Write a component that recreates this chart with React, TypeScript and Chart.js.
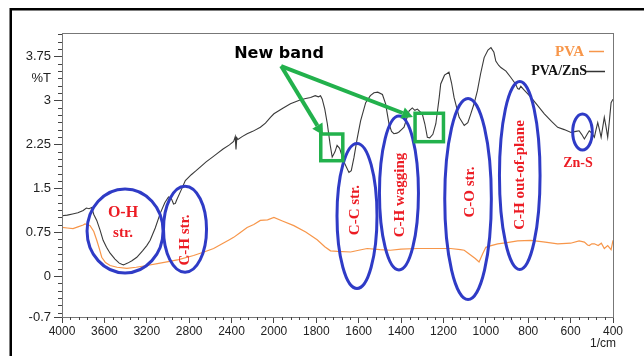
import React, { useEffect, useRef } from "react";
import { Chart, registerables } from "chart.js";

Chart.register(...registerables);

// ---------- DATA ----------
const xTickLabels = ["4000", "3600", "3200", "2800", "2400", "2000", "1800", "1600", "1400", "1200", "1000", "800", "600", "400"];
const yTickValues = [-0.7, 0, 0.75, 1.5, 2.25, 3, 3.75];
const yUnitTick = 3.375; // position of the "%T" label

// PVA/ZnS spectrum: [wavenumber (1/cm), %T]
const pvaZnsSpectrum: [number, number][] = [
  [4000, 1.03], [3950, 1.04], [3900, 1.06], [3850, 1.08], [3800, 1.12], [3770, 1.16], [3745, 1.15], [3720, 1.17],
  [3700, 1.05], [3672, 0.95], [3640, 0.78], [3612, 0.61], [3580, 0.49], [3546, 0.39], [3500, 0.29], [3460, 0.22],
  [3436, 0.2], [3420, 0.19], [3380, 0.22], [3340, 0.26], [3294, 0.32], [3240, 0.43], [3200, 0.52], [3168, 0.61],
  [3120, 0.82], [3073, 1.07], [3030, 1.25], [2995, 1.35], [2970, 1.33], [2947, 1.23], [2930, 1.24], [2920, 1.29],
  [2880, 1.45], [2836, 1.63], [2780, 1.73], [2740, 1.79], [2696, 1.86], [2640, 1.95], [2580, 2.03], [2537, 2.09],
  [2480, 2.17], [2420, 2.24], [2380, 2.3], [2365, 2.38], [2358, 2.16], [2350, 2.36], [2340, 2.33], [2300, 2.38],
  [2253, 2.43], [2200, 2.47], [2128, 2.54], [2080, 2.61], [2033, 2.71], [2000, 2.77], [1960, 2.86], [1922, 2.94],
  [1880, 3.0], [1850, 3.03], [1827, 3.05], [1805, 3.08], [1790, 3.06], [1780, 3.08], [1772, 3.02], [1760, 2.85],
  [1748, 2.6], [1735, 2.25], [1725, 2.03], [1712, 2.12], [1702, 2.23], [1690, 2.18], [1670, 1.95], [1646, 1.77],
  [1635, 1.8], [1622, 2.03], [1607, 2.35], [1591, 2.65], [1567, 2.96], [1545, 3.08], [1528, 3.13], [1510, 3.14],
  [1488, 3.1], [1473, 2.94], [1457, 2.6], [1445, 2.47], [1434, 2.43], [1420, 2.44], [1410, 2.46], [1398, 2.5],
  [1386, 2.54], [1362, 2.82], [1347, 2.87], [1335, 2.83], [1323, 2.85], [1300, 2.77], [1288, 2.6], [1276, 2.37],
  [1265, 2.36], [1250, 2.42], [1236, 2.6], [1220, 3.05], [1213, 3.28], [1195, 3.43], [1174, 3.48], [1162, 3.3],
  [1150, 3.05], [1126, 2.71], [1102, 2.57], [1085, 2.62], [1071, 2.77], [1055, 2.95], [1040, 3.16], [1025, 3.45],
  [1008, 3.73], [990, 3.86], [976, 3.9], [962, 3.82], [953, 3.67], [940, 3.6], [929, 3.56], [905, 3.5],
  [882, 3.39], [860, 3.28], [850, 3.2], [843, 3.19], [835, 3.24], [820, 3.18], [800, 3.1], [787, 3.05],
  [760, 2.93], [724, 2.77], [690, 2.64], [661, 2.54], [630, 2.5], [598, 2.45], [575, 2.47], [560, 2.48],
  [548, 2.42], [535, 2.34], [522, 2.42], [512, 2.48], [500, 2.44], [488, 2.37], [480, 2.5], [472, 2.62],
  [464, 2.5], [456, 2.37], [448, 2.55], [441, 2.71], [433, 2.55], [425, 2.37], [417, 2.65], [409, 2.96], [400, 3.02],
];

// PVA spectrum: [wavenumber (1/cm), %T]
const pvaSpectrum: [number, number][] = [
  [4000, 0.83], [3950, 0.82], [3896, 0.81], [3850, 0.84], [3800, 0.87], [3783, 0.89], [3760, 0.88], [3735, 0.86],
  [3700, 0.76], [3672, 0.61], [3645, 0.45], [3625, 0.32], [3590, 0.23], [3546, 0.18], [3480, 0.15], [3388, 0.13],
  [3300, 0.15], [3199, 0.18], [3100, 0.21], [3010, 0.24], [2900, 0.28], [2758, 0.35], [2660, 0.41], [2569, 0.47],
  [2480, 0.56], [2420, 0.62], [2380, 0.66], [2320, 0.74], [2253, 0.83], [2190, 0.88], [2128, 0.95], [2060, 0.96],
  [2000, 1.0], [1960, 0.94], [1906, 0.86], [1850, 0.75], [1796, 0.62], [1760, 0.5], [1733, 0.43], [1700, 0.42],
  [1638, 0.41], [1600, 0.44], [1560, 0.47], [1500, 0.45], [1450, 0.44], [1400, 0.46], [1323, 0.47], [1260, 0.47],
  [1210, 0.47], [1166, 0.47], [1120, 0.45], [1102, 0.44], [1080, 0.38], [1050, 0.3], [1032, 0.24], [1015, 0.38],
  [1000, 0.49], [975, 0.52], [944, 0.55], [900, 0.57], [850, 0.6], [787, 0.61], [720, 0.58], [661, 0.55],
  [600, 0.56], [560, 0.6], [535, 0.58], [520, 0.53], [512, 0.52], [500, 0.55], [488, 0.55], [470, 0.52],
  [455, 0.56], [441, 0.47], [425, 0.52], [409, 0.45], [400, 0.61],
];

// ---------- ANNOTATIONS (data-space anchors) ----------
const bandEllipses = [
  { wn: 3405, t: 0.77, rx: 38, ry: 42 },
  { wn: 2839, t: 0.8, rx: 21.5, ry: 43 },
  { wn: 1608, t: 1.025, rx: 20, ry: 72.5 },
  { wn: 1410, t: 1.418, rx: 19.5, ry: 77 },
  { wn: 1084, t: 1.315, rx: 23.3, ry: 100.5 },
  { wn: 840, t: 1.717, rx: 20.3, ry: 94 },
  { wn: 544, t: 2.46, rx: 9.8, ry: 18 },
];
const bandLabels = [
  { text: "O-H", wn: 3424, t: 1.076, rot: false, size: 16 },
  { text: "str.", wn: 3424, t: 0.735, rot: false, size: 15 },
  { text: "C-H str.", wn: 2839, t: 0.615, rot: true, size: 15 },
  { text: "C-C str.", wn: 1618, t: 1.127, rot: true, size: 15 },
  { text: "C-H wagging", wn: 1405, t: 1.384, rot: true, size: 15 },
  { text: "C-O str.", wn: 1075, t: 1.435, rot: true, size: 15 },
  { text: "C-H out-of-plane", wn: 838, t: 1.725, rot: true, size: 15 },
  { text: "Zn-S", wn: 565, t: 1.93, rot: false, size: 14 },
];
const newBand = {
  text: "New band", wn: 1976, t: 3.79,
  apex: { wn: 1966, t: 3.586 },
  tips: [{ wn: 1768, t: 2.408 }, { wn: 1344, t: 2.716 }],
  boxes: [
    { wn1: 1779, wn2: 1675, t1: 2.425, t2: 1.969 },
    { wn1: 1334, wn2: 1200, t1: 2.779, t2: 2.294 },
  ],
};

// piecewise wavenumber axis (400/div above 2000, 200/div below)
function toAxis(w: number): number {
  return w >= 2000 ? (4000 - w) / 400 : 5 + (2000 - w) / 200;
}

const BLUE = "#2f3bc6";
const RED = "#ec1c24";
const GREEN = "#22b14c";
const ORANGE = "#f7964a";
const DARK = "#3a3a3a";

const decorPlugin = {
  id: "decor",
  beforeDraw(chart: any) {
    const { ctx } = chart;
    ctx.save();
    ctx.fillStyle = "#fff";
    ctx.fillRect(0, 0, chart.width, chart.height);
    ctx.strokeStyle = "#000";
    ctx.lineWidth = 2.5;
    ctx.beginPath();
    ctx.moveTo(10.75, chart.height);
    ctx.lineTo(10.75, 9.25);
    ctx.lineTo(chart.width, 9.25);
    ctx.stroke();
    ctx.restore();
  },
  afterDraw(chart: any) {
    const { ctx, chartArea: ca } = chart;
    const x = chart.scales.x;
    const y = chart.scales.y;
    const px = (w: number) => x.getPixelForValue(toAxis(w));
    const py = (t: number) => y.getPixelForValue(t);
    ctx.save();

    // plot frame
    ctx.strokeStyle = "#777";
    ctx.lineWidth = 1;
    ctx.strokeRect(ca.left + 0.5, ca.top + 0.5, ca.right - ca.left, ca.bottom - ca.top);

    // minor ticks
    ctx.strokeStyle = "#444";
    ctx.beginPath();
    for (let i = 0; i < xTickLabels.length - 1; i++) {
      for (let k = 1; k < 5; k++) {
        const xx = Math.round(x.getPixelForValue(i + k / 5)) + 0.5;
        ctx.moveTo(xx, ca.bottom);
        ctx.lineTo(xx, ca.bottom + 3);
      }
    }
    for (let v = -0.625; v < 4.15; v += 0.125) {
      if (yTickValues.some((m) => Math.abs(m - v) < 0.01)) continue;
      const yy = Math.round(y.getPixelForValue(v)) + 0.5;
      ctx.moveTo(ca.left - 4, yy);
      ctx.lineTo(ca.left, yy);
    }
    ctx.stroke();

    // axis unit label
    ctx.fillStyle = "#222";
    ctx.font = "12px 'Liberation Sans', Arial, sans-serif";
    ctx.textAlign = "center";
    ctx.textBaseline = "middle";
    ctx.fillText("1/cm", 603, 344);

    // legend
    ctx.font = "bold 15px 'Liberation Serif', 'Times New Roman', serif";
    ctx.textAlign = "right";
    ctx.fillStyle = ORANGE;
    ctx.fillText("PVA", ca.right - 29, 52);
    ctx.strokeStyle = ORANGE;
    ctx.lineWidth = 1.5;
    ctx.beginPath();
    ctx.moveTo(ca.right - 24, 51.5);
    ctx.lineTo(ca.right - 9, 51.5);
    ctx.stroke();
    ctx.font = "bold 14px 'Liberation Serif', 'Times New Roman', serif";
    ctx.fillStyle = "#111";
    ctx.fillText("PVA/ZnS", ca.right - 26, 71);
    ctx.strokeStyle = "#333";
    ctx.beginPath();
    ctx.moveTo(ca.right - 27, 71.5);
    ctx.lineTo(ca.right - 8, 71.5);
    ctx.stroke();

    // band ellipses
    ctx.strokeStyle = BLUE;
    ctx.lineWidth = 3;
    for (const e of bandEllipses) {
      ctx.beginPath();
      ctx.ellipse(px(e.wn), py(e.t), e.rx, e.ry, 0, 0, Math.PI * 2);
      ctx.stroke();
    }

    // band labels
    ctx.fillStyle = RED;
    ctx.textAlign = "center";
    ctx.textBaseline = "middle";
    for (const l of bandLabels) {
      ctx.font = `bold ${l.size}px 'Liberation Serif', 'Times New Roman', serif`;
      ctx.save();
      ctx.translate(px(l.wn), py(l.t));
      if (l.rot) ctx.rotate(-Math.PI / 2);
      ctx.fillText(l.text, 0, 0);
      ctx.restore();
    }

    // new band arrows & boxes
    ctx.strokeStyle = GREEN;
    ctx.fillStyle = GREEN;
    ctx.lineWidth = 4;
    ctx.lineCap = "butt";
    const ax = px(newBand.apex.wn);
    const ay = py(newBand.apex.t);
    for (const tp of newBand.tips) {
      const tx = px(tp.wn);
      const ty = py(tp.t);
      const ang = Math.atan2(ty - ay, tx - ax);
      const head = 11;
      const bx = tx - Math.cos(ang) * head;
      const by = ty - Math.sin(ang) * head;
      ctx.beginPath();
      ctx.moveTo(ax, ay);
      ctx.lineTo(bx, by);
      ctx.stroke();
      ctx.beginPath();
      ctx.moveTo(tx, ty);
      ctx.lineTo(bx + Math.cos(ang + Math.PI / 2) * 6, by + Math.sin(ang + Math.PI / 2) * 6);
      ctx.lineTo(bx + Math.cos(ang - Math.PI / 2) * 6, by + Math.sin(ang - Math.PI / 2) * 6);
      ctx.closePath();
      ctx.fill();
    }
    ctx.lineWidth = 3.5;
    for (const b of newBand.boxes) {
      const x1 = px(b.wn1);
      const x2 = px(b.wn2);
      const y1 = py(b.t1);
      const y2 = py(b.t2);
      ctx.strokeRect(x1, y1, x2 - x1, y2 - y1);
    }
    ctx.fillStyle = "#000";
    ctx.font = "bold 16px 'DejaVu Sans', sans-serif";
    ctx.textAlign = "center";
    ctx.fillText(newBand.text, px(newBand.wn), py(newBand.t));

    ctx.restore();
  },
};

export default function App() {
  const canvasRef = useRef<HTMLCanvasElement | null>(null);

  useEffect(() => {
    const canvas = canvasRef.current;
    if (!canvas) return;
    const chart = new Chart(canvas, {
      type: "line",
      data: {
        datasets: [
          {
            label: "PVA",
            data: pvaSpectrum.map(([w, t]) => ({ x: toAxis(w), y: t })),
            borderColor: ORANGE,
            borderWidth: 1.2,
            pointRadius: 0,
            tension: 0,
            fill: false,
          },
          {
            label: "PVA/ZnS",
            data: pvaZnsSpectrum.map(([w, t]) => ({ x: toAxis(w), y: t })),
            borderColor: DARK,
            borderWidth: 1.1,
            pointRadius: 0,
            tension: 0,
            fill: false,
          },
        ],
      },
      options: {
        animation: false,
        responsive: false,
        devicePixelRatio: 1,
        layout: { padding: { top: 33, right: 31, left: 0, bottom: 0 } },
        plugins: { legend: { display: false }, tooltip: { enabled: false } },
        scales: {
          x: {
            type: "linear",
            min: 0,
            max: 13,
            afterFit: (s: any) => {
              s.height = 39;
            },
            afterBuildTicks: (s: any) => {
              s.ticks = xTickLabels.map((_, i) => ({ value: i }));
            },
            ticks: {
              autoSkip: false,
              maxRotation: 0,
              padding: 1,
              color: "#222",
              font: { family: "'Liberation Sans', Arial, sans-serif", size: 12 },
              callback: (v: any) => xTickLabels[Math.round(Number(v))],
            },
            grid: { drawOnChartArea: false, tickLength: 6, color: "#444" },
            border: { color: "#777" },
          },
          y: {
            type: "linear",
            min: -0.7,
            max: 4.15,
            afterFit: (s: any) => {
              s.width = 62;
            },
            afterBuildTicks: (s: any) => {
              s.ticks = [...yTickValues, yUnitTick].map((v) => ({ value: v }));
            },
            ticks: {
              autoSkip: false,
              padding: 3,
              color: "#222",
              font: { family: "'Liberation Sans', Arial, sans-serif", size: 13 },
              callback: (v: any) => (Math.abs(Number(v) - yUnitTick) < 1e-6 ? "%T" : String(v)),
            },
            grid: {
              drawOnChartArea: false,
              tickLength: 8,
              tickColor: (c: any) => (c.tick && Math.abs(c.tick.value - yUnitTick) < 1e-6 ? "rgba(0,0,0,0)" : "#444"),
            },
            border: { color: "#777" },
          },
        },
      },
      plugins: [decorPlugin],
    });
    return () => chart.destroy();
  }, []);

  return (
    <div style={{ position: "absolute", left: 0, top: 0, width: 644, height: 356, background: "#fff" }}>
      <canvas ref={canvasRef} width={644} height={356} style={{ display: "block", width: 644, height: 356 }} />
    </div>
  );
}
